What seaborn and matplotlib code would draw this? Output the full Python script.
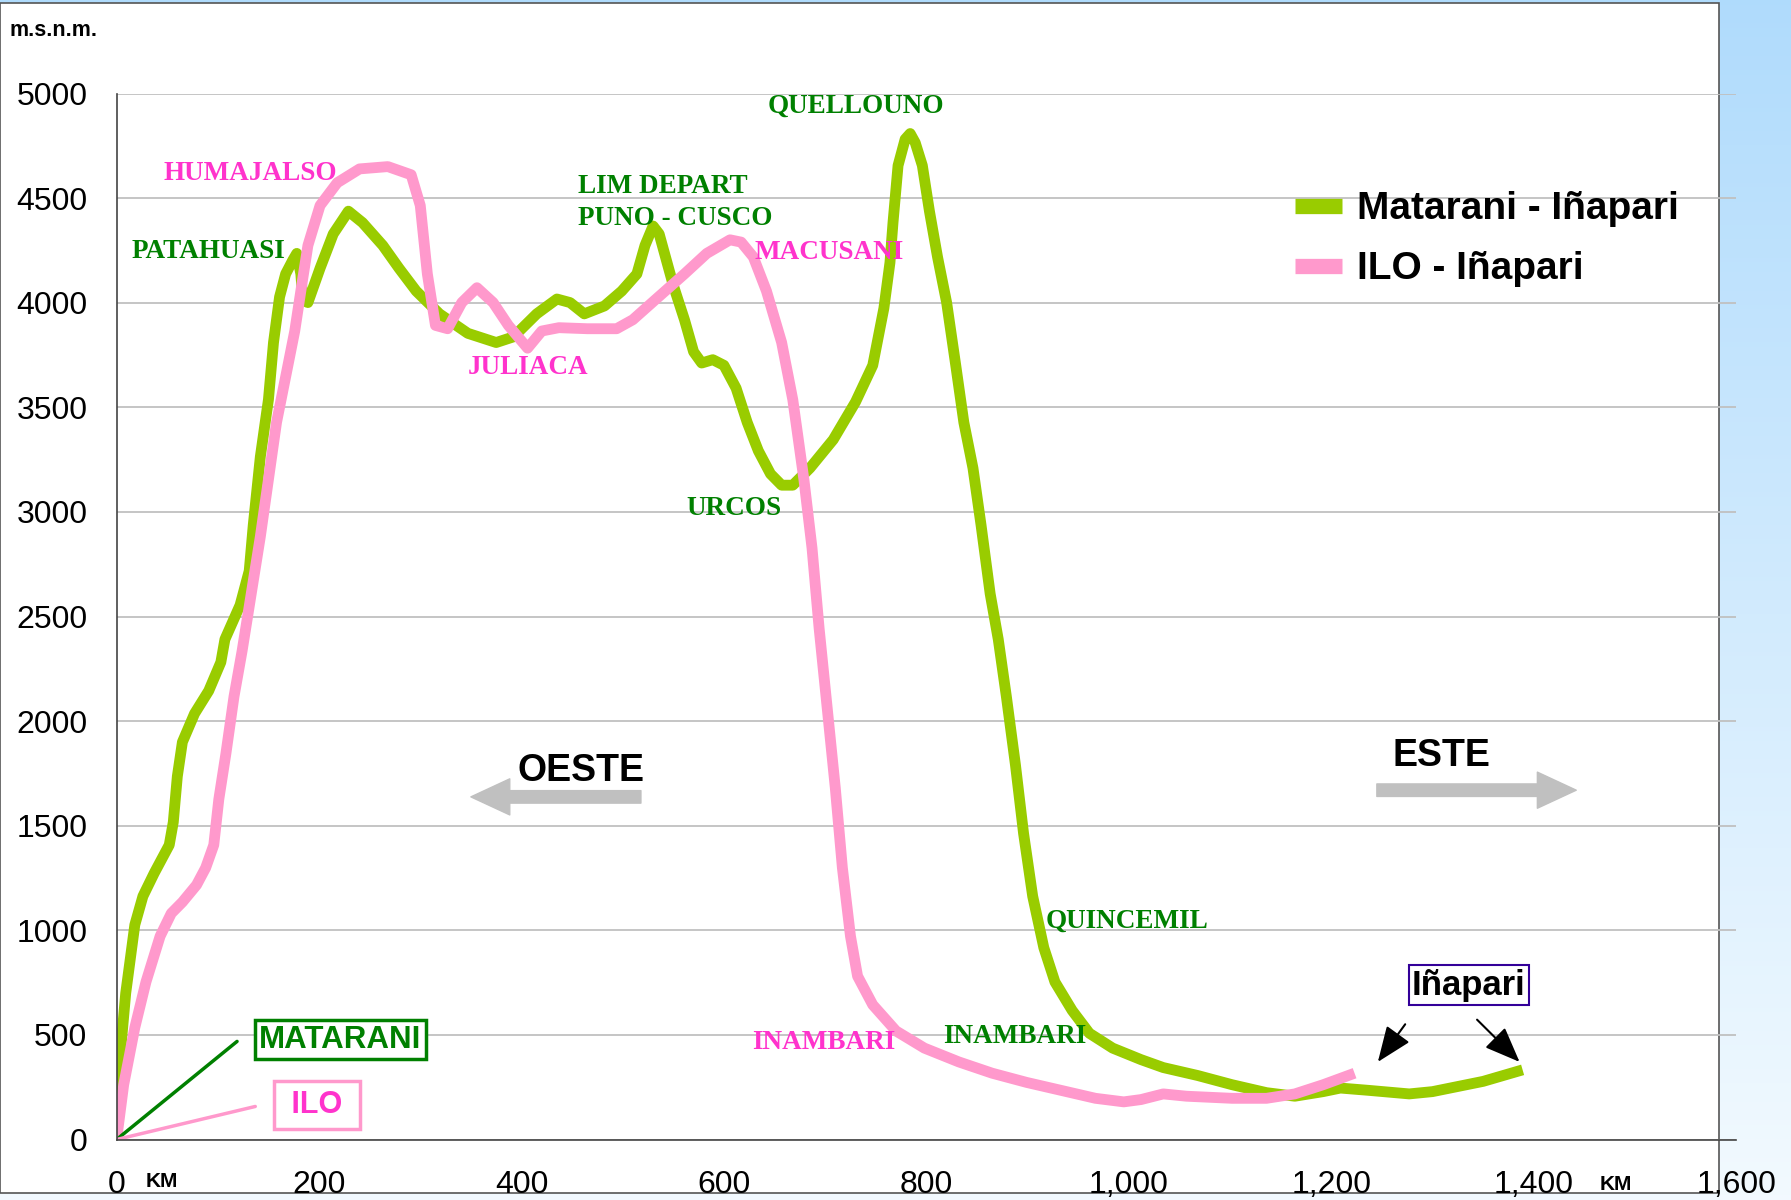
import numpy as np
import pandas as pd
import seaborn as sns
import matplotlib.pyplot as plt
from matplotlib.patches import Rectangle
from matplotlib.ticker import FuncFormatter

# Matarani - Iñapari profile (km, m.s.n.m.)
matarani_km = [0, 3, 9, 18, 26, 37, 52, 56, 60, 65, 77, 91, 103, 107, 122, 131, 135, 142, 150,
               155, 161, 167, 174, 178, 182, 184, 189, 201, 214, 229, 243, 263, 279, 296, 319,
               347, 375, 392, 415, 435, 448, 462, 482, 499, 514, 522, 530, 536, 550, 561, 570,
               578, 589, 600, 612, 623, 634, 646, 657, 668, 685, 708, 730, 747, 758, 764, 767,
               772, 779, 784, 789, 796, 803, 811, 820, 829, 837, 846, 854, 863, 871, 879, 888,
               896, 905, 916, 927, 944, 961, 984, 1012, 1034, 1068, 1102, 1136, 1164, 1192,
               1209, 1237, 1277, 1300, 1350, 1389]
matarani_alt = [0, 371, 699, 1026, 1163, 1272, 1408, 1517, 1736, 1900, 2036, 2145, 2282, 2391,
                2555, 2718, 2937, 3264, 3537, 3810, 4028, 4138, 4203, 4236, 4138, 4012, 4001,
                4165, 4329, 4438, 4383, 4274, 4165, 4056, 3947, 3854, 3810, 3837, 3947, 4018,
                4001, 3947, 3985, 4056, 4138, 4274, 4367, 4329, 4083, 3919, 3766, 3712, 3728,
                3701, 3592, 3428, 3292, 3182, 3128, 3128, 3210, 3346, 3526, 3701, 3974, 4192,
                4383, 4656, 4782, 4809, 4765, 4656, 4438, 4219, 4001, 3701, 3428, 3210, 2937,
                2609, 2391, 2118, 1790, 1463, 1163, 917, 753, 617, 508, 437, 382, 344, 306,
                262, 224, 207, 229, 246, 235, 218, 229, 278, 333]

# ILO - Iñapari profile (km, m.s.n.m.)
ilo_km = [0, 7, 18, 29, 43, 54, 65, 79, 88, 96, 101, 108, 116, 124, 133, 142, 150, 158, 167,
          176, 182, 189, 201, 218, 240, 268, 291, 300, 307, 315, 327, 341, 356, 372, 387, 406,
          420, 437, 465, 494, 510, 533, 561, 583, 606, 617, 629, 642, 657, 668, 679, 687, 694,
          702, 710, 717, 725, 732, 747, 770, 798, 832, 865, 899, 933, 967, 995, 1012, 1034,
          1057, 1102, 1136, 1164, 1192, 1223]
ilo_alt = [0, 262, 535, 753, 972, 1081, 1135, 1217, 1299, 1408, 1627, 1845, 2118, 2336, 2609,
           2882, 3155, 3428, 3646, 3865, 4056, 4274, 4465, 4574, 4640, 4651, 4612, 4465, 4138,
           3892, 3876, 4001, 4072, 4001, 3892, 3783, 3865, 3881, 3876, 3876, 3919, 4018, 4138,
           4236, 4301, 4290, 4219, 4056, 3810, 3537, 3155, 2828, 2445, 2063, 1681, 1299, 972,
           781, 644, 519, 437, 371, 317, 273, 235, 197, 180, 191, 218, 207, 197, 197, 218,
           262, 317]

routes = ["Matarani - Iñapari", "ILO - Iñapari"]
route_colors = ["#99cc00", "#ff99cc"]

# station labels: (text, km, alt, colour)
green_lbl = "#008000"
pink_lbl = "#ff33cc"
stations = [
    ("HUMAJALSO", 132, 4618, pink_lbl),
    ("PATAHUASI", 91, 4247, green_lbl),
    ("QUELLOUNO", 730, 4940, green_lbl),
    ("MACUSANI", 704, 4241, pink_lbl),
    ("JULIACA", 406, 3690, pink_lbl),
    ("URCOS", 610, 3018, green_lbl),
    ("QUINCEMIL", 998, 1043, green_lbl),
    ("INAMBARI", 699, 464, pink_lbl),
    ("INAMBARI", 887, 491, green_lbl),
]

df = pd.concat([
    pd.DataFrame({"km": matarani_km, "alt": matarani_alt, "route": routes[0]}),
    pd.DataFrame({"km": ilo_km, "alt": ilo_alt, "route": routes[1]}),
])

sns.set_style("white")
plt.rcParams["font.family"] = ["Liberation Sans", "DejaVu Sans"]
plt.rcParams["text.color"] = "black"
plt.rcParams["xtick.color"] = "black"
plt.rcParams["ytick.color"] = "black"

fig = plt.figure(figsize=(17.91, 12), dpi=100)

# light blue slide background + white panel
bg = fig.add_axes([0, 0, 1, 1], zorder=-10)
grad = np.linspace(0, 1, 256).reshape(-1, 1)
top_c = np.array([0.69, 0.86, 0.99])
bot_c = np.array([0.95, 0.98, 1.0])
img = top_c + (bot_c - top_c) * grad[..., None]
bg.imshow(img, extent=[0, 1, 0, 1], aspect="auto")
bg.add_patch(Rectangle((0, 1 - 1045 / 1051), 1505 / 1568, (1045 - 3) / 1051,
                       facecolor="white", edgecolor="#555555", linewidth=1.2))
bg.set_xlim(0, 1)
bg.set_ylim(0, 1)
bg.axis("off")

ax = fig.add_axes([0.0651, 0.0504, 0.9043, 0.8716])
ax.set_facecolor("none")

sns.lineplot(data=df, x="km", y="alt", hue="route", palette=route_colors,
             estimator=None, sort=False, linewidth=7.8, ax=ax, legend=True)
for ln in ax.lines:
    ln.set_solid_joinstyle("round")
    ln.set_solid_capstyle("butt")

ax.set_xlim(0, 1600)
ax.set_ylim(0, 5000)
ax.set_xticks(range(0, 1601, 200))
ax.set_yticks(range(0, 5001, 500))
ax.xaxis.set_major_formatter(FuncFormatter(lambda v, p: f"{int(v):,}"))
ax.grid(axis="y", color="#c0c0c0", linewidth=1.3)
ax.set_axisbelow(True)
for s in ["top", "right"]:
    ax.spines[s].set_visible(False)
for s in ["left", "bottom"]:
    ax.spines[s].set_color("#444444")
    ax.spines[s].set_linewidth(1.2)
ax.tick_params(axis="both", direction="out", length=8, width=1.2, color="#444444",
               labelsize=23, pad=13)
ax.tick_params(axis="x", pad=14)
ax.set_xlabel("")
ax.set_ylabel("")

leg = ax.legend(loc="upper left", bbox_to_anchor=(0.706, 0.94), frameon=False,
                prop={"size": 28, "weight": "bold"}, handlelength=1.2, handletextpad=0.4,
                labelspacing=0.62)
for h in leg.get_lines():
    h.set_linewidth(11)

serif = ["Liberation Serif", "DejaVu Serif"]
for txt, x, y, c in stations:
    ax.text(x, y, txt, color=c, fontsize=19.5, fontweight="bold", ha="center", va="center",
            family=serif)
ax.text(456, 4558, "LIM DEPART", color=green_lbl, fontsize=19.5, fontweight="bold",
        ha="left", va="center", family=serif)
ax.text(456, 4405, "PUNO - CUSCO", color=green_lbl, fontsize=19.5, fontweight="bold",
        ha="left", va="center", family=serif)

# port boxes
ax.plot([0, 119], [0, 469], color="#008000", linewidth=2.5)
ax.plot([0, 137], [0, 158], color="#ff99cc", linewidth=2.5)
ax.text(221, 478, "MATARANI", color="#008000", fontsize=22.5, fontweight="bold",
        ha="center", va="center",
        bbox=dict(boxstyle="square,pad=0.14", facecolor="white", edgecolor="#008000", linewidth=2.5))
ax.text(198, 164, " ILO ", color="#ff33cc", fontsize=22, fontweight="bold",
        ha="center", va="center",
        bbox=dict(boxstyle="square,pad=0.3", facecolor="white", edgecolor="#ff99cc", linewidth=2.5))
ax.text(1336, 737, "Iñapari", color="black", fontsize=25, fontweight="bold",
        ha="center", va="center",
        bbox=dict(boxstyle="square,pad=0.1", facecolor="white", edgecolor="#330099", linewidth=1.5))
for (x0, y0), (x1, y1) in [((1273, 551), (1246, 371)), ((1344, 573), (1386, 371))]:
    ax.annotate("", xy=(x1, y1), xytext=(x0, y0),
                arrowprops=dict(arrowstyle="-|>,head_length=1.0,head_width=0.4",
                                color="black", linewidth=1.5, shrinkA=0, shrinkB=0,
                                mutation_scale=22))

# direction arrows
ax.text(459, 1763, "OESTE", fontsize=27, fontweight="bold", ha="center", va="center")
ax.text(1309, 1834, "ESTE", fontsize=27, fontweight="bold", ha="center", va="center")
arrow_style = "simple,head_length=1.4,head_width=1.3,tail_width=0.45"
ax.annotate("", xy=(350, 1638), xytext=(518, 1638),
            arrowprops=dict(arrowstyle=arrow_style, color="#c0c0c0", shrinkA=0, shrinkB=0,
                            mutation_scale=20))
ax.annotate("", xy=(1442, 1670), xytext=(1245, 1670),
            arrowprops=dict(arrowstyle=arrow_style, color="#c0c0c0", shrinkA=0, shrinkB=0,
                            mutation_scale=20))

fig.text(8 / 1568, 1 - 27 / 1051, "m.s.n.m.", fontsize=15.5, fontweight="bold",
         ha="left", va="center")
fig.text(142 / 1568, 1 - 1035 / 1051, "KM", fontsize=15, fontweight="bold",
         ha="center", va="center")
fig.text(1415 / 1568, 1 - 1037 / 1051, "KM", fontsize=15, fontweight="bold",
         ha="center", va="center")

fig.savefig("out.png", dpi=100)
